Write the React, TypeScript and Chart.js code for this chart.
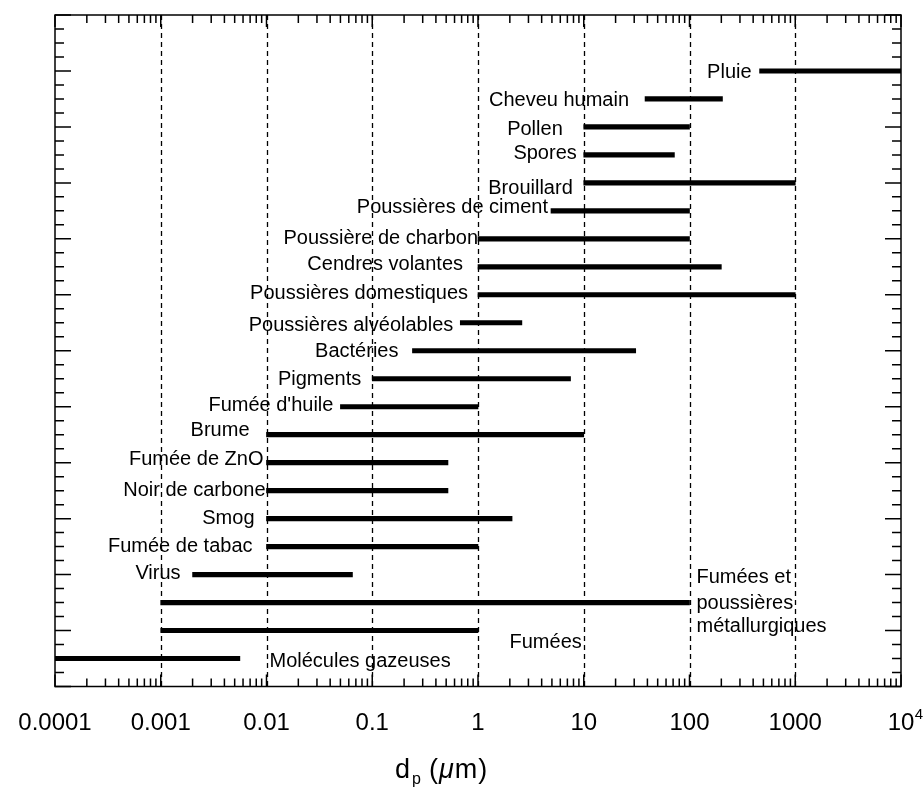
import React, { useEffect, useRef } from "react";
import { Chart, registerables } from "chart.js";

Chart.register(...registerables);

// ---- data ----
const categories: string[] = [
  "Pluie",
  "Cheveu humain",
  "Pollen",
  "Spores",
  "Brouillard",
  "Poussières de ciment",
  "Poussière de charbon",
  "Cendres volantes",
  "Poussières domestiques",
  "Poussières alvéolables",
  "Bactéries",
  "Pigments",
  "Fumée d'huile",
  "Brume",
  "Fumée de ZnO",
  "Noir de carbone",
  "Smog",
  "Fumée de tabac",
  "Virus",
  "Fumées et poussières métallurgiques",
  "Fumées",
  "Molécules gazeuses",
];
const rangeMin: number[] = [
  460, 38, 10, 10, 10, 4.9, 1, 1, 1, 0.68, 0.24, 0.1, 0.05, 0.01, 0.01, 0.01,
  0.01, 0.01, 0.002, 0.001, 0.001, 0.0001,
];
const rangeMax: number[] = [
  10000, 205, 100, 72, 1000, 100, 100, 200, 1000, 2.6, 31, 7.5, 1, 10, 0.52,
  0.52, 2.1, 1, 0.065, 100, 1, 0.0056,
];
const xTickValues: number[] = [0.0001, 0.001, 0.01, 0.1, 1, 10, 100, 1000, 10000];
const xTickLabels: string[] = ["0.0001", "0.001", "0.01", "0.1", "1", "10", "100", "1000", "10^4"];

// ---- layout (label placement relative to bar start, px) ----
const labelGap: number[] = [8, 16, 21, 7, 11, 3, 0, 15, 10, 7, 14, 11, 7, 17, 3, 1, 12, 14, 12];
const labelDy: number[] = [0, 0, 1, -3, 4, -5, -2, -4, -3, 1, -1, -1, -3, -6, -5, -2, -2, -2, -3];

const FONT = '"Liberation Sans", Arial, Helvetica, sans-serif';

const decorPlugin = {
  id: "decor",
  beforeDatasetsDraw(chart: any) {
    const { ctx, chartArea: a, scales } = chart;
    const xs = scales.x;
    ctx.save();
    ctx.strokeStyle = "#000";
    ctx.lineWidth = 1.3;
    ctx.setLineDash([5, 4]);
    for (let n = -3; n <= 3; n++) {
      const px = Math.round(xs.getPixelForValue(Math.pow(10, n))) + 0.5;
      ctx.beginPath();
      ctx.moveTo(px, a.top);
      ctx.lineTo(px, a.bottom);
      ctx.stroke();
    }
    ctx.restore();
  },
  afterDatasetsDraw(chart: any) {
    const { ctx, chartArea: a, scales } = chart;
    const xs = scales.x;
    const ys = scales.y;
    ctx.save();
    ctx.strokeStyle = "#000";
    ctx.lineWidth = 1.5;
    ctx.setLineDash([]);
    // frame
    ctx.strokeRect(a.left, a.top, a.right - a.left, a.bottom - a.top);
    // x ticks
    ctx.beginPath();
    for (let n = -4; n <= 4; n++) {
      const base = Math.pow(10, n);
      const px = xs.getPixelForValue(base);
      ctx.moveTo(px, a.top);
      ctx.lineTo(px, a.top + 12);
      ctx.moveTo(px, a.bottom);
      ctx.lineTo(px, a.bottom - 12);
      if (n < 4) {
        for (let k = 2; k <= 9; k++) {
          const p = xs.getPixelForValue(k * base);
          ctx.moveTo(p, a.top);
          ctx.lineTo(p, a.top + 8);
          ctx.moveTo(p, a.bottom);
          ctx.lineTo(p, a.bottom - 8);
        }
      }
    }
    // y ticks
    for (let v = 0; v <= 24; v += 0.5) {
      const py = ys.getPixelForValue(v);
      const len = v % 2 === 0 ? 16 : 9;
      ctx.moveTo(a.left, py);
      ctx.lineTo(a.left + len, py);
      ctx.moveTo(a.right, py);
      ctx.lineTo(a.right - len, py);
    }
    ctx.stroke();

    // x tick labels
    ctx.fillStyle = "#000";
    ctx.textBaseline = "alphabetic";
    const labelBase = a.bottom + 43.5;
    xTickValues.forEach((v, i) => {
      const px = xs.getPixelForValue(v);
      const t = xTickLabels[i];
      if (t.includes("^")) {
        const [b, e] = t.split("^");
        ctx.font = `24px ${FONT}`;
        ctx.textAlign = "center";
        ctx.fillText(b, px, labelBase);
        const w = ctx.measureText(b).width;
        ctx.font = `15px ${FONT}`;
        ctx.textAlign = "left";
        ctx.fillText(e, px + w / 2 + 0.5, labelBase - 11);
      } else {
        ctx.font = `24px ${FONT}`;
        ctx.textAlign = "center";
        ctx.fillText(t, px, labelBase);
      }
    });

    // axis title d_p (μm)
    let tx = 395;
    const ty = a.bottom + 91.5;
    ctx.textAlign = "left";
    const parts: [string, string, number, number][] = [
      ["d", `27px ${FONT}`, 0, 2],
      ["p", `16px ${FONT}`, 6, 8],
      ["(", `27px ${FONT}`, 0, 1],
      ["\u03bc", `italic 27px ${FONT}`, 0, 1],
      ["m", `27px ${FONT}`, 0, 1],
      [")", `27px ${FONT}`, 0, 0],
    ];
    parts.forEach(([s, f, dy, gap]) => {
      ctx.font = f;
      ctx.fillText(s, tx, ty + dy);
      tx += ctx.measureText(s).width + gap;
    });

    // bar labels
    ctx.font = `20px ${FONT}`;
    const capHalf = 7.2;
    const N = categories.length;
    categories.forEach((name, i) => {
      const py = ys.getPixelForValue(N - i);
      if (i < labelGap.length) {
        ctx.textAlign = "right";
        const px = xs.getPixelForValue(rangeMin[i]) - labelGap[i];
        ctx.fillText(name, px, py + labelDy[i] + capHalf);
      } else if (name.startsWith("Fumées et")) {
        ctx.textAlign = "left";
        const px = xs.getPixelForValue(rangeMax[i]) + 7;
        const lines = ["Fumées et", "poussières", "métallurgiques"];
        const offs = [-27, -1, 22];
        lines.forEach((l, j) => ctx.fillText(l, px, py + offs[j] + capHalf));
      } else if (name === "Fumées") {
        ctx.textAlign = "right";
        const px = xs.getPixelForValue(10) - 2;
        ctx.fillText(name, px, py + 10 + capHalf);
      } else {
        ctx.textAlign = "left";
        const px = xs.getPixelForValue(0.01) + 3;
        ctx.fillText(name, px, py + 1 + capHalf);
      }
    });
    ctx.restore();
  },
};

export default function App() {
  const ref = useRef<HTMLCanvasElement | null>(null);
  useEffect(() => {
    if (!ref.current) return;
    const N = categories.length;
    const chart = new Chart(ref.current, {
      type: "bar",
      data: {
        datasets: [
          {
            data: categories.map((c, i) => ({ x: [rangeMin[i], rangeMax[i]], y: N - i })) as any,
            backgroundColor: "#000",
            borderWidth: 0,
            barThickness: 4.5,
          },
        ],
      },
      options: {
        indexAxis: "y",
        responsive: false,
        animation: false,
        layout: { padding: { left: 55, top: 15, right: 22, bottom: 104.5 } },
        scales: {
          x: { type: "logarithmic", min: 0.0001, max: 10000, display: false, offset: false },
          y: { type: "linear", min: 0, max: 24, display: false, offset: false, grid: { offset: false } },
        },
        plugins: { legend: { display: false }, tooltip: { enabled: false } },
      },
      plugins: [decorPlugin],
    });
    return () => chart.destroy();
  }, []);
  return (
    <div style={{ position: "fixed", left: 0, top: 0, width: 923, height: 791, background: "#fff" }}>
      <canvas ref={ref} width={923} height={791} style={{ display: "block" }} />
    </div>
  );
}
